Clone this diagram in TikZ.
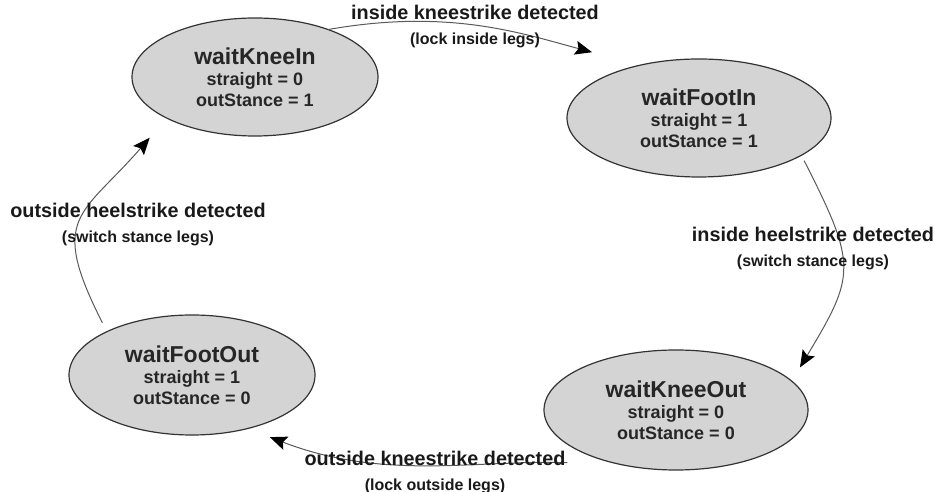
\documentclass[tikz,border=0pt]{standalone}
\usepackage{fontspec}
\setmainfont{Liberation Sans}
\usetikzlibrary{arrows.meta,shapes.geometric}

\newcommand\sname[1]{{\fontsize{11.5}{10.5}\selectfont #1}}
\newcommand\why[1]{{\fontsize{8}{10}\selectfont #1}}

\begin{document}
\begin{tikzpicture}[x=0.5pt,y=0.5pt, % one unit = one pixel of the scan
  state/.style={ellipse, draw=black!80, fill=black!17, line width=0.6pt,
    inner sep=0pt, outer sep=0pt, minimum height=59pt, align=center,
    font=\bfseries\fontsize{9}{10.5}\selectfont, text=black!85},
  trans/.style={draw=black!65, line width=0.5pt,
    -{Stealth[length=8.5pt,width=7pt,inset=1.5pt,black]}},
  lbl/.style={align=center, font=\bfseries\fontsize{9.9}{12.5}\selectfont, text=black!90}]
\useasboundingbox (0,0) rectangle (937,492); % page = scan size

% states
\node[state, minimum width=123pt] (kneein) at (255,415) {\sname{waitKneeIn}\\straight = 0\\outStance = 1};
\node[state, minimum width=132pt] (footin) at (699,374) {\sname{waitFootIn}\\straight = 1\\outStance = 1};
\node[state, minimum width=132pt, minimum height=60pt] (kneeout) at (676,82) {\sname{waitKneeOut}\\straight = 0\\outStance = 0};
\node[state, minimum width=123pt, minimum height=60pt] (footout) at (192,117) {\sname{waitFootOut}\\straight = 1\\outStance = 0};

% transitions
\draw[trans, shorten >=25pt] (kneein.33) to[out=10,in=165] (footin.138);
\draw[trans, shorten <=3pt, shorten >=8pt] (footin.-20) to[out=-63,in=59,looseness=1.4] (kneeout.14);
\draw[trans, shorten <=27pt, shorten >=12pt] (kneeout.225) to[out=178,in=-21] (footout.316);
\draw[trans, shorten <=5pt, shorten >=13pt] (footout.153) to[out=117,in=229,looseness=1.5] (kneein.205);

% labels
\node[lbl] (kneeinlbl) at (475,465) {inside kneestrike detected\\\why{(lock inside legs)}};
\node[lbl] (footinlbl) at (813,243) {inside heelstrike detected\\\why{(switch stance legs)}};
\node[lbl] (kneeoutlbl) at (435,19) {outside kneestrike detected\\\why{(lock outside legs)}};
\node[lbl] (footoutlbl) at (138,267) {outside heelstrike detected\\\why{(switch stance legs)}};
\end{tikzpicture}
\end{document}
